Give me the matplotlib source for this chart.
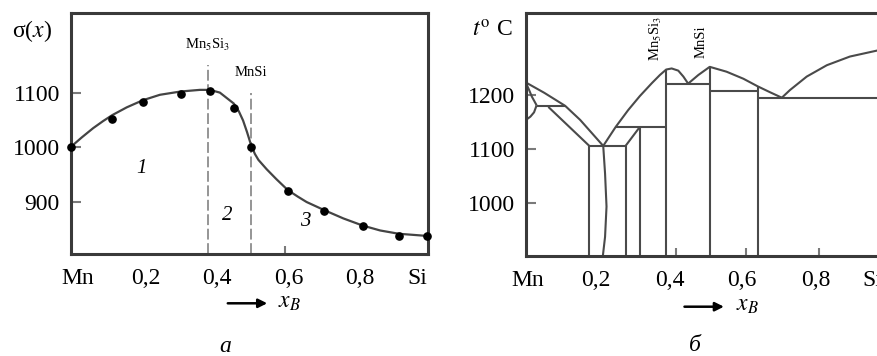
import matplotlib
matplotlib.use("Agg")
import matplotlib.pyplot as plt
from matplotlib.patches import FancyArrowPatch

plt.rcParams['font.family'] = ['Liberation Serif', 'DejaVu Serif']
plt.rcParams['mathtext.fontset'] = 'stix'

# ---------------- data: panel a (sigma(x)) ----------------
x_pts = [0.0, 0.116, 0.201, 0.307, 0.389, 0.457, 0.504, 0.607, 0.710, 0.817, 0.918, 0.998]
sigma_pts = [1001, 1051, 1083, 1098, 1103, 1072, 1000, 920, 884, 856, 837, 838]

curve_x = [0.0, 0.030, 0.062, 0.090, 0.116, 0.156, 0.201, 0.249, 0.307, 0.361, 0.389,
           0.417, 0.456, 0.470, 0.482, 0.493, 0.504, 0.515, 0.525, 0.548, 0.575, 0.607,
           0.635, 0.660, 0.710, 0.763, 0.817, 0.866, 0.918, 0.998]
curve_sigma = [1001, 1018, 1035, 1048, 1059, 1073, 1086, 1096, 1102, 1105, 1105,
               1100, 1080, 1066, 1049, 1028, 1005, 988, 977, 960, 942, 922,
               910, 900, 885, 870, 857, 848, 842, 838]

compound_x = [0.384, 0.504]          # Mn5Si3, MnSi dashed lines
compound_top = [1150, 1099]
compound_names = [r'Mn$_5$Si$_3$', 'MnSi']
compound_label_y = [1187, 1136]

region_labels = ['1', '2', '3']
region_x = [0.198, 0.439, 0.655]
region_y = [962, 876, 864]

a_ylim = (805, 1245.5)
a_yticks = [900, 1000, 1100]
a_tick_marks_x = [0.21, 0.41, 0.60, 0.81]
a_xlabel_pos = [0.02, 0.21, 0.41, 0.61, 0.81, 0.97]
xlabels = ['Mn', '0,2', '0,4', '0,6', '0,8', 'Si']

# ---------------- data: panel b (phase diagram) ----------------
b_ylim = (902.7, 1351.4)
b_yticks = [1000, 1100, 1200]
b_tick_marks_x = [0.41, 0.60, 0.80]
b_xlabel_pos = [0.005, 0.191, 0.392, 0.589, 0.792, 0.945]

liq_mn_x = [0.0, 0.050, 0.107, 0.148, 0.211]
liq_mn_t = [1223, 1204, 1180, 1154, 1106]

arc_up_x = [0.0, 0.008, 0.016, 0.029]
arc_up_t = [1222, 1210, 1197, 1181]
arc_lo_x = [0.0, 0.012, 0.022, 0.029]
arc_lo_t = [1154, 1160, 1168, 1181]

perit_x = [0.029, 0.107]
perit_t = [1180, 1180]
solvus_x = [0.061, 0.173]
solvus_t = [1178, 1106]

eut1_x = [0.173, 0.272]
eut1_t = [1106, 1106]

wavy_x = [0.211, 0.216, 0.220, 0.216, 0.210]
wavy_t = [1106, 1055, 994, 938, 903]

diag2_x = [0.272, 0.311]
diag2_t = [1106, 1141]
h3_x = [0.245, 0.383]
h3_t = [1141, 1141]

liq_mid_x = [0.211, 0.245, 0.279, 0.311, 0.344, 0.366, 0.383, 0.398, 0.416, 0.430, 0.443,
             0.471, 0.502, 0.548, 0.594, 0.633, 0.667, 0.699]
liq_mid_t = [1106, 1141, 1172, 1198, 1222, 1237, 1247, 1249, 1245, 1234, 1221,
             1237, 1252, 1243, 1230, 1216, 1205, 1195]
liq_si_x = [0.699, 0.721, 0.767, 0.822, 0.885, 0.959, 1.0]
liq_si_t = [1195, 1209, 1234, 1255, 1271, 1282, 1288]

h_mn5_x = [0.383, 0.502]
h_mn5_t = [1220, 1220]
h_mnsi_x = [0.502, 0.633]
h_mnsi_t = [1208, 1208]
h_eut_x = [0.633, 1.0]
h_eut_t = [1195, 1195]

vert_x = [0.173, 0.272, 0.311, 0.383, 0.502, 0.633]
vert_top = [1106, 1106, 1141, 1247, 1252, 1216]

b_label_x = [0.383, 0.502]
b_label_t = [1304, 1298]

# ---------------- figure ----------------
W, H = 877, 356
fig = plt.figure(figsize=(W / 100, H / 100), dpi=100)
axA = fig.add_axes([71 / W, 1 - 254 / H, 357 / W, 241 / H])
axB = fig.add_axes([526 / W, 1 - 256 / H, 366 / W, 243 / H])

frame_col = '#3a3a3a'
line_col = '#444444'
FS = 17

for ax in (axA, axB):
    for s in ax.spines.values():
        s.set_linewidth(2.2)
        s.set_color(frame_col)
    ax.set_xlim(0, 1)

# ----- panel a -----
axA.set_ylim(*a_ylim)
axA.plot(curve_x, curve_sigma, color=line_col, lw=1.6, zorder=3, solid_joinstyle='round')
axA.plot(x_pts, sigma_pts, 'o', color='black', ms=5.2, zorder=4, clip_on=False)
for cx, ct in zip(compound_x, compound_top):
    axA.plot([cx, cx], [a_ylim[0], ct], color='#8c8c8c', lw=1.3,
             linestyle=(0, (6, 2)), zorder=2)
for cx, cy, nm in zip(compound_x, compound_label_y, compound_names):
    axA.text(cx, cy, nm, fontsize=10.5, ha='center', va='center')
for lab, rx, ry in zip(region_labels, region_x, region_y):
    axA.text(rx, ry, lab, fontsize=15, style='italic', ha='center', va='center')

# ----- panel b -----
axB.set_ylim(*b_ylim)
pc = '#4a4a4a'
plw = 1.5
segs = [(liq_mn_x, liq_mn_t), (arc_up_x, arc_up_t), (arc_lo_x, arc_lo_t),
        (perit_x, perit_t), (solvus_x, solvus_t), (eut1_x, eut1_t),
        (wavy_x, wavy_t), (diag2_x, diag2_t), (h3_x, h3_t),
        (liq_mid_x, liq_mid_t), (liq_si_x, liq_si_t),
        (h_mn5_x, h_mn5_t), (h_mnsi_x, h_mnsi_t), (h_eut_x, h_eut_t)]
for sx, st in segs:
    axB.plot(sx, st, color=pc, lw=plw, solid_capstyle='butt', solid_joinstyle='round')
axB.vlines(vert_x, b_ylim[0], vert_top, color=pc, lw=plw)
for bx, bt, nm in zip(b_label_x, b_label_t, compound_names):
    axB.text(bx - 0.005, bt, nm, fontsize=10.5, rotation=90, ha='right', va='center')

# ----- ticks -----
for ax, yt, tm, lp in ((axA, a_yticks, a_tick_marks_x, a_xlabel_pos),
                       (axB, b_yticks, b_tick_marks_x, b_xlabel_pos)):
    ax.set_yticks(yt)
    ax.set_yticklabels([str(v) for v in yt], fontsize=FS)
    ax.set_xticks(lp)
    ax.set_xticklabels(xlabels, fontsize=FS)
    ax.set_xticks(tm, minor=True)
    ax.tick_params(axis='x', which='major', length=0, pad=10)
    ax.tick_params(axis='x', which='minor', direction='in', length=6, width=1.5,
                   color='#7a7a7a', top=False)
    ax.tick_params(axis='y', which='major', direction='in', length=7, width=1.5,
                   color='#7a7a7a', pad=8, right=False)
    ax.tick_params(axis='y', which='minor', length=0)

# ----- figure-level labels -----
fig.text(31.7 / W, 1 - 30.7 / H, r'σ($x$)', fontsize=17, ha='center', va='center')
fig.text(492 / W, 1 - 31 / H, r'$t^{\mathrm{o}}$ C', fontsize=17, ha='center', va='center')

for (x0, x1, y, tx) in ((225, 270, 303.3, 278), (681.7, 726.7, 306.7, 736)):
    arr = FancyArrowPatch((x0 / W, 1 - y / H), (x1 / W, 1 - y / H),
                          transform=fig.transFigure, arrowstyle='-|>',
                          mutation_scale=13, lw=1.8, color='black')
    fig.add_artist(arr)
    fig.text(tx / W, 1 - (y - 1) / H, r'$x_B$', fontsize=17, ha='left', va='center')
sub_x = [225, 695]
sub_y = [346.5, 345.5]
for sx, sy, lab in zip(sub_x, sub_y, ['а', 'б']):
    fig.text(sx / W, 1 - sy / H, lab, fontsize=17, style='italic', ha='center', va='center')

fig.savefig('out.png', dpi=100)
